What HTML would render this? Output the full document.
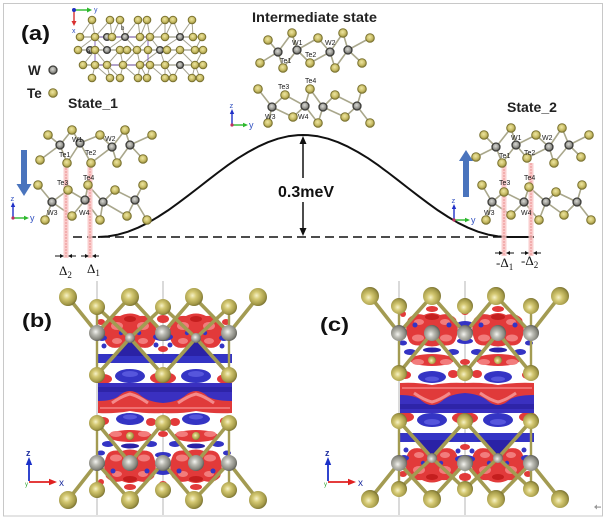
<!DOCTYPE html>
<html><head><meta charset="utf-8"><style>
html,body{margin:0;padding:0;background:#fff;}
svg{display:block;}
text{font-family:"Liberation Sans",Arial,sans-serif;}
.t{fill:url(#gTs);stroke:#7a7230;stroke-width:1;}
.w{fill:url(#gWs);stroke:#3d3d3a;stroke-width:1.3;}
.bd{fill:none;stroke:#a9a78c;stroke-width:1.6;stroke-linecap:round;}
.lb{font-size:7px;fill:#1a1a1a;}
.TB{fill:url(#gTb);}
.WB{fill:url(#gWb);}
.R{fill:#e23a3a;}
.R2{fill:#f27c7c;}
.R3{fill:#c41e1e;}
.B{fill:#3434c4;}
.B2{fill:#2a22a6;}
.B3{fill:#5656dc;}
</style></head><body>
<svg width="608" height="520" viewBox="0 0 608 520" xmlns="http://www.w3.org/2000/svg">
<defs>
<radialGradient id="gTs" cx="45%" cy="40%" r="60%"><stop offset="0" stop-color="#eee6a2"/><stop offset="0.6" stop-color="#c9bd66"/><stop offset="1" stop-color="#8f863a"/></radialGradient>
<radialGradient id="gWs" cx="45%" cy="40%" r="60%"><stop offset="0" stop-color="#d8d8d4"/><stop offset="0.6" stop-color="#9a9a94"/><stop offset="1" stop-color="#5a5a56"/></radialGradient>
<radialGradient id="gTb" cx="42%" cy="42%" r="60%"><stop offset="0" stop-color="#f6f2c8"/><stop offset="0.35" stop-color="#d4c872"/><stop offset="0.8" stop-color="#a49a48"/><stop offset="1" stop-color="#7a7232"/></radialGradient>
<radialGradient id="gWb" cx="42%" cy="42%" r="60%"><stop offset="0" stop-color="#f4f4f0"/><stop offset="0.35" stop-color="#bcbcb4"/><stop offset="0.8" stop-color="#86867e"/><stop offset="1" stop-color="#5c5c56"/></radialGradient>

<g id="rtop">
  <path class="R" d="M106,323 Q108,315 120,316 Q130,311 140,316 Q152,315 154,323 Q159,333 154,343 Q150,350 139,347 Q130,351 121,347 Q110,350 106,343 Q101,333 106,323Z"/>
  <ellipse class="R2" cx="117" cy="326" rx="6" ry="4"/>
  <ellipse class="R2" cx="143" cy="326" rx="6" ry="4"/>
  <ellipse class="R3" cx="130" cy="319" rx="6" ry="3"/>
  <ellipse class="R2" cx="117" cy="341" rx="5" ry="3"/>
  <ellipse class="R2" cx="143" cy="341" rx="5" ry="3"/>
  <circle class="B" cx="121" cy="333" r="2.2"/>
  <circle class="B" cx="139" cy="333" r="2.2"/>
</g>
<g id="rbot">
  <path class="R" d="M107,455 Q110,449 122,451 Q130,448 138,451 Q150,449 153,455 Q158,466 154,477 Q148,484 138,481 Q130,485 122,481 Q112,484 106,477 Q102,466 107,455Z"/>
  <ellipse class="R2" cx="116" cy="458" rx="6" ry="3.5"/>
  <ellipse class="R2" cx="144" cy="458" rx="6" ry="3.5"/>
  <ellipse class="R2" cx="117" cy="474" rx="5" ry="3"/>
  <ellipse class="R2" cx="143" cy="474" rx="5" ry="3"/>
  <ellipse class="R3" cx="130" cy="479" rx="7" ry="3"/>
</g>
<g id="mid">
  <path class="B2" d="M108,356 Q120,354 124,346 Q130,338 136,346 Q140,354 152,356 Z"/>
  <ellipse class="B" cx="130" cy="376" rx="15" ry="7"/>
  <ellipse class="B3" cx="130" cy="374" rx="8" ry="3"/>
  <ellipse class="B" cx="130" cy="419" rx="14" ry="6"/>
  <ellipse class="B3" cx="130" cy="417" rx="7" ry="2.5"/>
  <ellipse class="R" cx="130" cy="436" rx="22" ry="6"/>
  <ellipse class="R2" cx="116" cy="434" rx="6" ry="3"/>
  <ellipse class="R2" cx="144" cy="434" rx="6" ry="3"/>
  <ellipse class="B2" cx="130" cy="446" rx="9" ry="2.5"/>
  <path d="M112,403 Q122,396 130,394 Q138,396 148,403" stroke="#f48a8a" stroke-width="3" fill="none"/>
</g>

<g id="panel">
  <line x1="97" y1="281" x2="97" y2="515" stroke="#b4b4b4" stroke-width="1"/>
  <line x1="163" y1="281" x2="163" y2="515" stroke="#b4b4b4" stroke-width="1"/>
  <!-- isosurfaces -->
  <use href="#rtop"/>
  <use href="#rtop" x="66"/>
  <ellipse class="R" cx="163" cy="319" rx="6" ry="4"/>
  <ellipse class="B" cx="163" cy="337" rx="10" ry="4"/>
  <ellipse class="R" cx="101" cy="322" rx="4" ry="3"/>
  <ellipse class="R" cx="226" cy="322" rx="4" ry="3"/>
  <ellipse class="B" cx="102" cy="338" rx="5" ry="3"/>
  <ellipse class="B" cx="224" cy="338" rx="5" ry="3"/>
  <circle class="B" cx="104" cy="346" r="2.5"/>
  <circle class="B" cx="156" cy="345" r="2.5"/>
  <circle class="B" cx="170" cy="345" r="2.5"/>
  <circle class="B" cx="222" cy="346" r="2.5"/>
  <ellipse class="R" cx="163" cy="349" rx="5" ry="3"/>
  <rect class="B" x="98" y="354" width="134" height="9"/>
  <ellipse class="R" cx="163" cy="378" rx="13" ry="6"/>
  <ellipse class="R" cx="103" cy="379" rx="9" ry="5"/>
  <ellipse class="R" cx="226" cy="379" rx="9" ry="5"/>
  <rect x="98" y="383" width="134" height="20" fill="#3a30c0"/>
  <rect x="98" y="387" width="134" height="5" fill="#2e24a8"/>
  <path d="M98,401 Q114,401 120,395 Q130,387 140,395 Q148,402 163,403 Q178,402 186,395 Q196,387 206,395 Q212,401 232,401 L232,413 Q214,414 196,411 Q180,414 163,413 Q146,414 130,411 Q114,414 98,413 Z" fill="#e03a3a"/>
  <path d="M100,408 L230,408" stroke="#f07070" stroke-width="2"/>
  <use href="#mid"/>
  <use href="#mid" x="66"/>
  <ellipse class="R" cx="151" cy="422" rx="5" ry="4"/>
  <ellipse class="R" cx="175" cy="422" rx="5" ry="4"/>
  <ellipse class="R" cx="103" cy="421" rx="6" ry="4"/>
  <ellipse class="R" cx="226" cy="421" rx="6" ry="4"/>
  <ellipse class="R" cx="163" cy="434" rx="5" ry="3"/>
  <ellipse class="B" cx="108" cy="444" rx="6" ry="3"/>
  <ellipse class="B" cx="151" cy="444" rx="6" ry="3"/>
  <ellipse class="B" cx="175" cy="444" rx="6" ry="3"/>
  <ellipse class="B" cx="218" cy="444" rx="6" ry="3"/>
  <use href="#rbot"/>
  <use href="#rbot" x="66"/>
  <ellipse class="B" cx="163" cy="455" rx="8" ry="3"/>
  <ellipse class="B" cx="163" cy="472" rx="8" ry="3"/>
  <ellipse class="B" cx="101" cy="453" rx="4" ry="2.5"/>
  <ellipse class="B" cx="227" cy="453" rx="4" ry="2.5"/>
  <circle class="B" cx="113" cy="471" r="2.5"/>
  <circle class="B" cx="147" cy="471" r="2.5"/>
  <circle class="B" cx="179" cy="471" r="2.5"/>
  <circle class="B" cx="213" cy="471" r="2.5"/>
  <ellipse class="R" cx="130" cy="487" rx="6" ry="3"/>
  <ellipse class="R" cx="196" cy="487" rx="6" ry="3"/>
  <ellipse class="R" cx="163" cy="484" rx="4" ry="3"/>
  <ellipse class="R" cx="101" cy="482" rx="3" ry="3"/>
  <!-- bonds -->
  <path d="M68,297L97,333L130,297L163,333L194,297L229,333L258,297 M97,307L130,338L163,307 M163,307L196,338L229,307 M97,375L130,338L163,375L196,338L229,375 M97,423L130,463L163,423L196,463L229,423 M68,500L97,463L130,500L163,463L194,500L229,463L258,500" fill="none" stroke="#a39b52" stroke-width="3.6" stroke-linecap="round"/>
  <path d="M97,307V375 M229,307V375 M97,423V490 M229,423V490" stroke="#a39b52" stroke-width="2.4"/>
  <!-- back atoms visible -->
  <circle class="TB" cx="130" cy="436" r="4"/>
  <circle class="TB" cx="196" cy="436" r="4"/>
  <!-- atoms -->
  <circle class="TB" cx="68" cy="297" r="9"/>
  <circle class="TB" cx="130" cy="297" r="9"/>
  <circle class="TB" cx="194" cy="297" r="9"/>
  <circle class="TB" cx="258" cy="297" r="9"/>
  <circle class="TB" cx="97" cy="307" r="8"/>
  <circle class="TB" cx="163" cy="307" r="8"/>
  <circle class="TB" cx="229" cy="307" r="8"/>
  <circle class="WB" cx="97" cy="333" r="8"/>
  <circle class="WB" cx="163" cy="333" r="8"/>
  <circle class="WB" cx="229" cy="333" r="8"/>
  <circle class="WB" cx="130" cy="338" r="5"/>
  <circle class="WB" cx="196" cy="338" r="5"/>
  <circle class="TB" cx="97" cy="375" r="8"/>
  <circle class="TB" cx="163" cy="375" r="8"/>
  <circle class="TB" cx="229" cy="375" r="8"/>
  <circle class="TB" cx="97" cy="423" r="8"/>
  <circle class="TB" cx="163" cy="423" r="8"/>
  <circle class="TB" cx="229" cy="423" r="8"/>
  <circle class="WB" cx="97" cy="463" r="8"/>
  <circle class="WB" cx="130" cy="463" r="8"/>
  <circle class="WB" cx="163" cy="463" r="8"/>
  <circle class="WB" cx="196" cy="463" r="8"/>
  <circle class="WB" cx="229" cy="463" r="8"/>
  <circle class="TB" cx="97" cy="490" r="8"/>
  <circle class="TB" cx="163" cy="490" r="8"/>
  <circle class="TB" cx="229" cy="490" r="8"/>
  <circle class="TB" cx="68" cy="500" r="9"/>
  <circle class="TB" cx="130" cy="500" r="9"/>
  <circle class="TB" cx="194" cy="500" r="9"/>
  <circle class="TB" cx="258" cy="500" r="9"/>
</g>
</defs>

<rect x="0" y="0" width="608" height="520" fill="#fff"/>
<rect x="3.5" y="3.5" width="599" height="512.5" fill="none" stroke="#c8c8c8" stroke-width="1"/>

<!-- ===== Panel (a) ===== -->
<text x="21" y="40" font-size="20" font-weight="bold" textLength="29" lengthAdjust="spacingAndGlyphs" fill="#111">(a)</text>

<!-- top view crystal -->
<g>
  <path d="M80,37H203 M78,50H203 M83,65H203" stroke="#9c9a88" stroke-width="1.2" fill="none"/>
  <path d="M80,37L92,20L95,37L110,20L112,37L120,20L125,37L138,20L140,37L147,20L150,37L165,20L165,37L173,20L180,37L192,20L193,37 M78,50L95,37L107,50L125,37L137,50L150,37L160,50L180,37L195,50L202,37 M83,65L95,50L107,65L120,50L123,65L137,50L140,65L160,50L165,65L180,50L195,65L203,50 M92,78L95,65L110,78L107,65L120,78L123,65L138,78L140,65L147,78L150,65L165,78L165,65L173,78L180,65L192,78L195,65L200,78" stroke="#a4a290" stroke-width="1" fill="none"/>
  <rect x="95" y="37" width="53" height="28" fill="none" stroke="#7a5ab8" stroke-width="0.9"/>
  <g>
    <circle class="t" cx="92" cy="20" r="3.8"/><circle class="t" cx="110" cy="20" r="3.8"/><circle class="t" cx="120" cy="20" r="3.8"/><circle class="t" cx="138" cy="20" r="3.8"/><circle class="t" cx="147" cy="20" r="3.8"/><circle class="t" cx="165" cy="20" r="3.8"/><circle class="t" cx="173" cy="20" r="3.8"/><circle class="t" cx="192" cy="20" r="3.8"/>
    <circle class="t" cx="80" cy="37" r="3.8"/><circle class="t" cx="95" cy="37" r="3.8"/><circle class="w" cx="107" cy="37" r="3.4"/><circle class="t" cx="112" cy="37" r="3.8"/><circle class="w" cx="125" cy="37" r="3.4"/><circle class="t" cx="140" cy="37" r="3.8"/><circle class="t" cx="150" cy="37" r="3.8"/><circle class="t" cx="165" cy="37" r="3.8"/><circle class="w" cx="180" cy="37" r="3.4"/><circle class="t" cx="193" cy="37" r="3.8"/><circle class="t" cx="202" cy="37" r="3.8"/>
    <circle class="t" cx="78" cy="50" r="3.8"/><circle class="w" cx="90" cy="50" r="3.4"/><circle class="t" cx="95" cy="50" r="3.8"/><circle class="w" cx="107" cy="50" r="3.4"/><circle class="t" cx="120" cy="50" r="3.8"/><circle class="t" cx="127" cy="50" r="3.8"/><circle class="t" cx="137" cy="50" r="3.8"/><circle class="t" cx="148" cy="50" r="3.8"/><circle class="w" cx="160" cy="50" r="3.4"/><circle class="t" cx="167" cy="50" r="3.8"/><circle class="t" cx="180" cy="50" r="3.8"/><circle class="t" cx="195" cy="50" r="3.8"/><circle class="t" cx="203" cy="50" r="3.8"/>
    <circle class="t" cx="83" cy="65" r="3.8"/><circle class="t" cx="95" cy="65" r="3.8"/><circle class="t" cx="107" cy="65" r="3.8"/><circle class="t" cx="123" cy="65" r="3.8"/><circle class="t" cx="140" cy="65" r="3.8"/><circle class="t" cx="150" cy="65" r="3.8"/><circle class="t" cx="165" cy="65" r="3.8"/><circle class="w" cx="180" cy="65" r="3.4"/><circle class="t" cx="195" cy="65" r="3.8"/><circle class="t" cx="203" cy="65" r="3.8"/>
    <circle class="t" cx="92" cy="78" r="3.8"/><circle class="t" cx="110" cy="78" r="3.8"/><circle class="t" cx="120" cy="78" r="3.8"/><circle class="t" cx="138" cy="78" r="3.8"/><circle class="t" cx="147" cy="78" r="3.8"/><circle class="t" cx="165" cy="78" r="3.8"/><circle class="t" cx="173" cy="78" r="3.8"/><circle class="t" cx="192" cy="78" r="3.8"/><circle class="t" cx="200" cy="78" r="3.8"/>
  </g>
  <text x="121" y="30" font-size="6" fill="#222">b</text>
  <text x="87" y="53" font-size="6" fill="#222">a</text>
  <!-- axis icon -->
  <line x1="74" y1="10" x2="88" y2="10" stroke="#2db82d" stroke-width="1.4"/>
  <polygon points="92,10 87,7.5 87,12.5" fill="#2db82d"/>
  <line x1="74" y1="10" x2="74" y2="22" stroke="#d83030" stroke-width="1.4"/>
  <polygon points="74,26 71.5,21 76.5,21" fill="#d83030"/>
  <circle cx="74" cy="10" r="2" fill="#2030c0"/>
  <text x="94" y="12" font-size="7" fill="#3050c0">y</text>
  <text x="72" y="33" font-size="7" fill="#3050c0">x</text>
</g>

<!-- legend -->
<text x="28" y="75" font-size="13.5" font-weight="bold" fill="#222">W</text>
<circle class="w" cx="53" cy="70" r="4"/>
<text x="27" y="98" font-size="13.5" font-weight="bold" fill="#222">Te</text>
<circle class="t" cx="53" cy="93" r="4.3"/>

<text x="68" y="108" font-size="13.5" font-weight="bold" textLength="50" lengthAdjust="spacingAndGlyphs" fill="#222">State_1</text>
<text x="252" y="22" font-size="14" font-weight="bold" textLength="125" lengthAdjust="spacingAndGlyphs" fill="#222">Intermediate state</text>
<text x="507" y="112" font-size="13.5" font-weight="bold" textLength="50" lengthAdjust="spacingAndGlyphs" fill="#222">State_2</text>

<!-- energy curve -->
<line x1="73" y1="237" x2="534" y2="237" stroke="#111" stroke-width="1.6" stroke-dasharray="9,5"/>
<polyline points="98,237 108,236.4 118,234.6 128,231.7 138,227.7 148,222.8 158,216.9 168,210.4 178,203.2 188,195.7 198,188 208,180.2 218,172.5 228,165.1 238,158.2 248,152.1 258,146.7 268,142.2 278,138.7 288,136.3 298,135.1 303,135 308,135.1 318,136.3 328,138.7 338,142.2 348,146.7 358,152.1 368,158.2 378,165.1 388,172.5 398,180.2 408,188 418,195.7 428,203.2 438,210.4 448,216.9 458,222.8 468,227.7 478,231.7 488,234.6 498,236.4 508,237 534,237" fill="none" stroke="#111" stroke-width="2" stroke-linejoin="round"/>
<line x1="303" y1="141" x2="303" y2="178" stroke="#111" stroke-width="1.5"/>
<polygon points="303,136 299.5,144 306.5,144" fill="#111"/>
<line x1="303" y1="202" x2="303" y2="231" stroke="#111" stroke-width="1.5"/>
<polygon points="303,236 299.5,228 306.5,228" fill="#111"/>
<text x="278" y="197" font-size="16" font-weight="bold" textLength="56" lengthAdjust="spacingAndGlyphs" fill="#111">0.3meV</text>

<!-- State_1 structure -->
<path class="bd" d="M48,135L60,145L72,130M40,160L60,145L67,163 M72,130L80,143L100,135M67,163L80,143L91,163 M100,135L112,147L125,130M91,163L112,147L117,163 M125,130L130,145L152,135M117,163L130,145L143,159 M38,185L52,202L68,190M45,220L52,202L72,216 M68,190L85,200L88,185M72,216L85,200L100,220 M88,185L103,202L115,190M100,220L103,202L127,216 M115,190L135,200L143,185M127,216L135,200L147,220"/>
<rect x="63.5" y="165" width="5" height="93" fill="#f9c4c4" opacity="0.85"/>
<line x1="66" y1="165" x2="66" y2="258" stroke="#e58080" stroke-width="0.8" stroke-dasharray="2,1"/>
<rect x="87.5" y="165" width="5" height="93" fill="#f9c4c4" opacity="0.85"/>
<line x1="90" y1="165" x2="90" y2="258" stroke="#e58080" stroke-width="0.8" stroke-dasharray="2,1"/>
<g>
<circle class="t" cx="48" cy="135" r="4.3"/><circle class="t" cx="72" cy="130" r="4.3"/><circle class="t" cx="100" cy="135" r="4.3"/><circle class="t" cx="125" cy="130" r="4.3"/><circle class="t" cx="152" cy="135" r="4.3"/>
<circle class="t" cx="40" cy="160" r="4.3"/><circle class="t" cx="67" cy="163" r="4.3"/><circle class="t" cx="91" cy="163" r="4.3"/><circle class="t" cx="117" cy="163" r="4.3"/><circle class="t" cx="143" cy="159" r="4.3"/>
<circle class="w" cx="60" cy="145" r="4"/><circle class="w" cx="80" cy="143" r="4"/><circle class="w" cx="112" cy="147" r="4"/><circle class="w" cx="130" cy="145" r="4"/>
<circle class="t" cx="38" cy="185" r="4.3"/><circle class="t" cx="68" cy="190" r="4.3"/><circle class="t" cx="88" cy="185" r="4.3"/><circle class="t" cx="115" cy="190" r="4.3"/><circle class="t" cx="143" cy="185" r="4.3"/>
<circle class="w" cx="52" cy="202" r="4"/><circle class="w" cx="85" cy="200" r="4"/><circle class="w" cx="103" cy="202" r="4"/><circle class="w" cx="135" cy="200" r="4"/>
<circle class="t" cx="45" cy="220" r="4.3"/><circle class="t" cx="72" cy="216" r="4.3"/><circle class="t" cx="100" cy="220" r="4.3"/><circle class="t" cx="127" cy="216" r="4.3"/><circle class="t" cx="147" cy="220" r="4.3"/>
</g>
<text class="lb" x="72" y="142">W1</text><text class="lb" x="105" y="141">W2</text>
<text class="lb" x="59" y="157">Te1</text><text class="lb" x="85" y="155">Te2</text>
<text class="lb" x="57" y="185">Te3</text><text class="lb" x="83" y="180">Te4</text>
<text class="lb" x="47" y="215">W3</text><text class="lb" x="79" y="215">W4</text>
<!-- blue arrow down -->
<rect x="21" y="150" width="6" height="35" fill="#4a74bd"/>
<polygon points="16.5,184 31.5,184 24,196" fill="#4a74bd"/>
<!-- axis -->
<line x1="13" y1="218" x2="13" y2="206" stroke="#2030c8" stroke-width="1.4"/>
<polygon points="13,202 10.8,207 15.2,207" fill="#2030c8"/>
<line x1="13" y1="218" x2="25" y2="218" stroke="#2db82d" stroke-width="1.4"/>
<polygon points="29,218 24,215.8 24,220.2" fill="#2db82d"/>
<circle cx="13" cy="218" r="1.6" fill="#c03060"/>
<text x="10.5" y="201" font-size="7.5" fill="#3050c0">z</text>
<text x="30" y="221" font-size="9" fill="#3050c0">y</text>
<!-- delta marks -->
<g stroke="#111" stroke-width="1" fill="#111">
<line x1="55" y1="256" x2="61" y2="256"/><polygon points="64,256 60,254 60,258" stroke="none"/>
<line x1="76" y1="256" x2="71" y2="256"/><polygon points="68,256 72,254 72,258" stroke="none"/>
<line x1="81" y1="256" x2="86" y2="256"/><polygon points="89,256 85,254 85,258" stroke="none"/>
<line x1="99" y1="256" x2="95" y2="256"/><polygon points="92,256 96,254 96,258" stroke="none"/>
</g>
<text x="59" y="275" font-size="13" font-family="Liberation Serif, serif" fill="#111" style="font-family:'Liberation Serif',serif">Δ<tspan font-size="9" dy="3">2</tspan></text>
<text x="87" y="273" font-size="13" fill="#111" style="font-family:'Liberation Serif',serif">Δ<tspan font-size="9" dy="3">1</tspan></text>

<!-- Intermediate structure -->
<path class="bd" d="M268,40L278,52L292,33M260,63L278,52L283,68 M292,33L297,50L318,38M283,68L297,50L310,63 M318,38L330,52L343,33M310,63L330,52L335,68 M343,33L348,50L370,38M335,68L348,50L362,63 M258,89L272,107L285,95M268,123L272,107L293,117 M285,95L305,106L310,89M293,117L305,106L318,123 M310,89L323,107L335,95M318,123L323,107L345,117 M335,95L357,106L362,89M345,117L357,106L370,123"/>
<g>
<circle class="t" cx="268" cy="40" r="4.3"/><circle class="t" cx="292" cy="33" r="4.3"/><circle class="t" cx="318" cy="38" r="4.3"/><circle class="t" cx="343" cy="33" r="4.3"/><circle class="t" cx="370" cy="38" r="4.3"/>
<circle class="t" cx="260" cy="63" r="4.3"/><circle class="t" cx="283" cy="68" r="4.3"/><circle class="t" cx="310" cy="63" r="4.3"/><circle class="t" cx="335" cy="68" r="4.3"/><circle class="t" cx="362" cy="63" r="4.3"/>
<circle class="w" cx="278" cy="52" r="4"/><circle class="w" cx="297" cy="50" r="4"/><circle class="w" cx="330" cy="52" r="4"/><circle class="w" cx="348" cy="50" r="4"/>
<circle class="t" cx="258" cy="89" r="4.3"/><circle class="t" cx="285" cy="95" r="4.3"/><circle class="t" cx="310" cy="89" r="4.3"/><circle class="t" cx="335" cy="95" r="4.3"/><circle class="t" cx="362" cy="89" r="4.3"/>
<circle class="w" cx="272" cy="107" r="4"/><circle class="w" cx="305" cy="106" r="4"/><circle class="w" cx="323" cy="107" r="4"/><circle class="w" cx="357" cy="106" r="4"/>
<circle class="t" cx="268" cy="123" r="4.3"/><circle class="t" cx="293" cy="117" r="4.3"/><circle class="t" cx="318" cy="123" r="4.3"/><circle class="t" cx="345" cy="117" r="4.3"/><circle class="t" cx="370" cy="123" r="4.3"/>
</g>
<text class="lb" x="292" y="45">W1</text><text class="lb" x="325" y="45">W2</text>
<text class="lb" x="280" y="63">Te1</text><text class="lb" x="305" y="57">Te2</text>
<text class="lb" x="278" y="89">Te3</text><text class="lb" x="305" y="83">Te4</text>
<text class="lb" x="265" y="119">W3</text><text class="lb" x="298" y="119">W4</text>
<line x1="232" y1="125" x2="232" y2="113" stroke="#2030c8" stroke-width="1.4"/>
<polygon points="232,109 229.8,114 234.2,114" fill="#2030c8"/>
<line x1="232" y1="125" x2="244" y2="125" stroke="#2db82d" stroke-width="1.4"/>
<polygon points="248,125 243,122.8 243,127.2" fill="#2db82d"/>
<circle cx="232" cy="125" r="1.6" fill="#c03060"/>
<text x="229.5" y="108" font-size="7.5" fill="#3050c0">z</text>
<text x="249" y="128" font-size="9" fill="#3050c0">y</text>

<!-- State_2 structure -->
<path class="bd" d="M484,135L496,147L511,128M476,157L496,147L502,163 M511,128L516,145L536,135M502,163L516,145L527,158 M536,135L549,147L562,128M527,158L549,147L554,163 M562,128L569,145L589,135M554,163L569,145L581,157 M482,185L492,202L504,192M486,220L492,202L511,215 M504,192L524,202L529,187M511,215L524,202L539,220 M529,187L546,202L556,192M539,220L546,202L564,215 M556,192L577,202L582,185M564,215L577,202L591,220"/>
<rect x="501.5" y="163" width="5" height="93" fill="#f9c4c4" opacity="0.85"/>
<line x1="504" y1="163" x2="504" y2="256" stroke="#e58080" stroke-width="0.8" stroke-dasharray="2,1"/>
<rect x="528.5" y="163" width="5" height="93" fill="#f9c4c4" opacity="0.85"/>
<line x1="531" y1="163" x2="531" y2="256" stroke="#e58080" stroke-width="0.8" stroke-dasharray="2,1"/>
<g>
<circle class="t" cx="484" cy="135" r="4.3"/><circle class="t" cx="511" cy="128" r="4.3"/><circle class="t" cx="536" cy="135" r="4.3"/><circle class="t" cx="562" cy="128" r="4.3"/><circle class="t" cx="589" cy="135" r="4.3"/>
<circle class="t" cx="476" cy="157" r="4.3"/><circle class="t" cx="502" cy="163" r="4.3"/><circle class="t" cx="527" cy="158" r="4.3"/><circle class="t" cx="554" cy="163" r="4.3"/><circle class="t" cx="581" cy="157" r="4.3"/>
<circle class="w" cx="496" cy="147" r="4"/><circle class="w" cx="516" cy="145" r="4"/><circle class="w" cx="549" cy="147" r="4"/><circle class="w" cx="569" cy="145" r="4"/>
<circle class="t" cx="482" cy="185" r="4.3"/><circle class="t" cx="504" cy="192" r="4.3"/><circle class="t" cx="529" cy="187" r="4.3"/><circle class="t" cx="556" cy="192" r="4.3"/><circle class="t" cx="582" cy="185" r="4.3"/>
<circle class="w" cx="492" cy="202" r="4"/><circle class="w" cx="524" cy="202" r="4"/><circle class="w" cx="546" cy="202" r="4"/><circle class="w" cx="577" cy="202" r="4"/>
<circle class="t" cx="486" cy="220" r="4.3"/><circle class="t" cx="511" cy="215" r="4.3"/><circle class="t" cx="539" cy="220" r="4.3"/><circle class="t" cx="564" cy="215" r="4.3"/><circle class="t" cx="591" cy="220" r="4.3"/>
</g>
<text class="lb" x="511" y="140">W1</text><text class="lb" x="542" y="140">W2</text>
<text class="lb" x="499" y="158">Te1</text><text class="lb" x="524" y="155">Te2</text>
<text class="lb" x="499" y="185">Te3</text><text class="lb" x="524" y="180">Te4</text>
<text class="lb" x="484" y="215">W3</text><text class="lb" x="521" y="215">W4</text>
<!-- blue arrow up -->
<polygon points="459,161 473,161 466,150" fill="#4a74bd"/>
<rect x="463" y="160" width="6" height="37" fill="#4a74bd"/>
<line x1="454" y1="220" x2="454" y2="208" stroke="#2030c8" stroke-width="1.4"/>
<polygon points="454,204 451.8,209 456.2,209" fill="#2030c8"/>
<line x1="454" y1="220" x2="466" y2="220" stroke="#2db82d" stroke-width="1.4"/>
<polygon points="470,220 465,217.8 465,222.2" fill="#2db82d"/>
<circle cx="454" cy="220" r="1.6" fill="#c03060"/>
<text x="451.5" y="203" font-size="7.5" fill="#3050c0">z</text>
<text x="471" y="223" font-size="9" fill="#3050c0">y</text>
<g stroke="#111" stroke-width="1" fill="#111">
<line x1="495" y1="253" x2="500" y2="253"/><polygon points="503,253 499,251 499,255" stroke="none"/>
<line x1="514" y1="253" x2="509" y2="253"/><polygon points="506,253 510,251 510,255" stroke="none"/>
<line x1="521" y1="253" x2="526" y2="253"/><polygon points="529,253 525,251 525,255" stroke="none"/>
<line x1="541" y1="253" x2="536" y2="253"/><polygon points="533,253 537,251 537,255" stroke="none"/>
</g>
<text x="496" y="267" font-size="13" fill="#111" style="font-family:'Liberation Serif',serif">-Δ<tspan font-size="9" dy="3">1</tspan></text>
<text x="521" y="265" font-size="13" fill="#111" style="font-family:'Liberation Serif',serif">-Δ<tspan font-size="9" dy="3">2</tspan></text>

<!-- ===== Panels (b) and (c) ===== -->
<use href="#panel"/>
<use href="#panel" transform="matrix(1,0,0,-1,302,796)"/>

<text x="22" y="327" font-size="19" font-weight="bold" textLength="30" lengthAdjust="spacingAndGlyphs" fill="#111">(b)</text>
<text x="320" y="331" font-size="19" font-weight="bold" textLength="29" lengthAdjust="spacingAndGlyphs" fill="#111">(c)</text>

<!-- axes b -->
<g>
<line x1="29" y1="481" x2="29" y2="463" stroke="#1a30c8" stroke-width="1.8"/>
<polygon points="29,457 25.8,465 32.2,465" fill="#1a30c8"/>
<line x1="29" y1="482" x2="51" y2="482" stroke="#e02020" stroke-width="1.8"/>
<polygon points="57,482 49,478.8 49,485.2" fill="#e02020"/>
<text x="26" y="456" font-size="9" font-weight="bold" fill="#2030a0">z</text>
<text x="59" y="486" font-size="10" fill="#2030a0">x</text>
<text x="25" y="486" font-size="6" fill="#30a030">y</text>
</g>
<g transform="translate(299,0)">
<line x1="29" y1="481" x2="29" y2="463" stroke="#1a30c8" stroke-width="1.8"/>
<polygon points="29,457 25.8,465 32.2,465" fill="#1a30c8"/>
<line x1="29" y1="482" x2="51" y2="482" stroke="#e02020" stroke-width="1.8"/>
<polygon points="57,482 49,478.8 49,485.2" fill="#e02020"/>
<text x="26" y="456" font-size="9" font-weight="bold" fill="#2030a0">z</text>
<text x="59" y="486" font-size="10" fill="#2030a0">x</text>
<text x="25" y="486" font-size="6" fill="#30a030">y</text>
</g>

<!-- small corner mark -->
<g fill="#9a9a9a">
<rect x="595" y="506.5" width="6" height="1.2"/>
<polygon points="594,507 597,504.5 597,509.5"/>
</g>
</svg>
</body></html>
